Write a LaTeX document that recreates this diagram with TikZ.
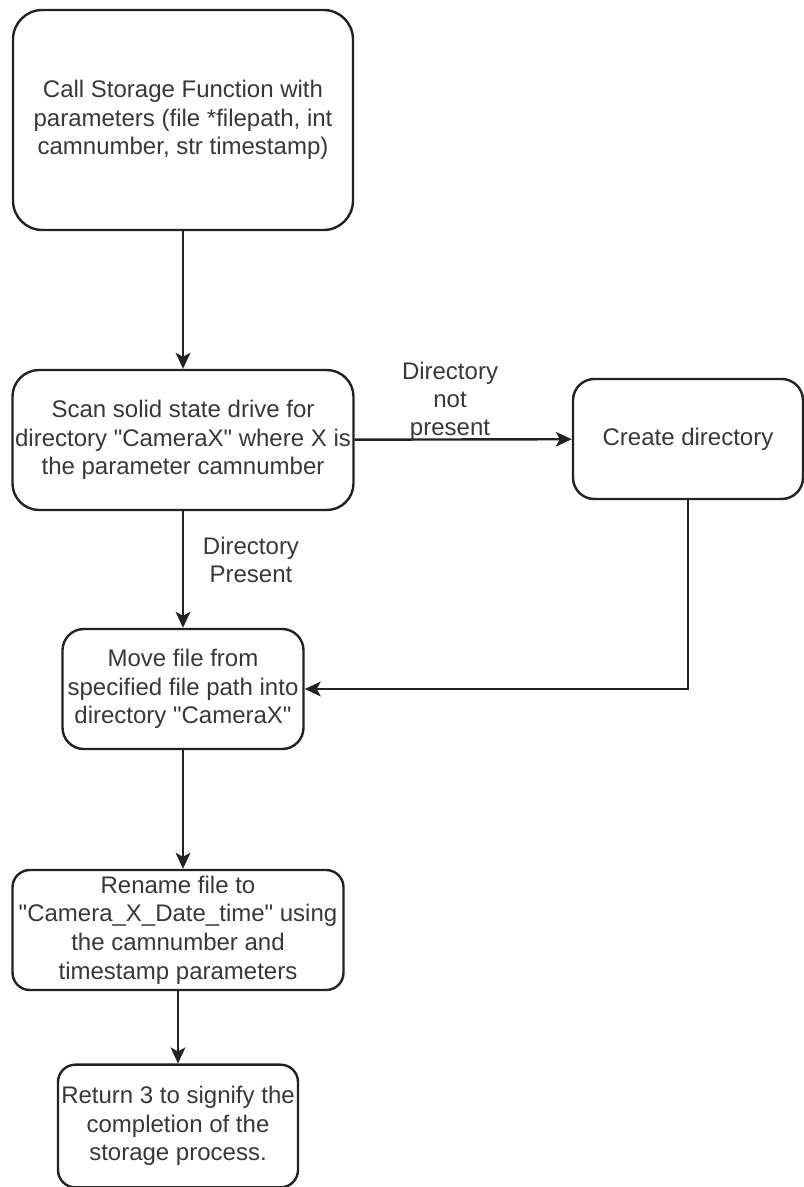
\documentclass[tikz,border=0pt]{standalone}
\usepackage{fontspec}
\setmainfont{Liberation Sans}
\usetikzlibrary{arrows.meta}
\definecolor{txt}{HTML}{383838}
\definecolor{ln}{HTML}{222222}
\begin{document}
\begin{tikzpicture}[x=0.75pt,y=-0.75pt,
  box/.style={draw=ln, line width=1.8pt, rounded corners=16pt, inner sep=0pt, align=center, text=txt, font=\fontsize{18}{21.5}\selectfont},
  flow/.style={draw=ln, line width=1.8pt, -{Stealth[length=12pt,width=11pt,inset=3pt]}},
  lbl/.style={text=txt, align=center, inner sep=0pt, font=\fontsize{18}{21}\selectfont}]
\useasboundingbox (0,0) rectangle (803,1187);
\node[box, rounded corners=22pt, minimum width=255pt, minimum height=165pt] (call) at (183,120)
  {Call Storage Function with\\parameters (file *filepath, int\\camnumber, str timestamp)};
\node[box, rounded corners=20pt, minimum width=255.75pt, minimum height=105pt] (scan) at (183,440)
  {Scan solid state drive for\\directory \textquotedbl CameraX\textquotedbl{} where X is\\the parameter camnumber};
\node[box, minimum width=172.5pt, minimum height=90pt] (create) at (688,439)
  {Create directory};
\node[box, minimum width=180.75pt, minimum height=90pt] (move) at (183,689)
  {Move file from\\specified file path into\\directory \textquotedbl CameraX\textquotedbl};
\node[box, rounded corners=13pt, minimum width=248.25pt, minimum height=90pt] (rename) at (178,930)
  {Rename file to\\\textquotedbl Camera\_X\_Date\_time\textquotedbl{} using\\the camnumber and\\timestamp parameters};
\node[box, rounded corners=13pt, minimum width=180pt, minimum height=92pt] (ret) at (178,1126)
  {Return 3 to signify the\\completion of the\\storage process.};
\draw[flow] (call) -- (scan);
\draw[flow] (scan) -- (create);
\draw[flow] (scan) -- (move);
\draw[flow] (create.south) |- (move.east);
\draw[flow] (move.south) -- (move.south |- rename.north);
\draw[flow] (rename) -- (ret);
\node[lbl] (np) at (450,401) {Directory\\not\\present};
\node[lbl] (pr) at (251,560) {Directory\\Present};
\end{tikzpicture}
\end{document}
